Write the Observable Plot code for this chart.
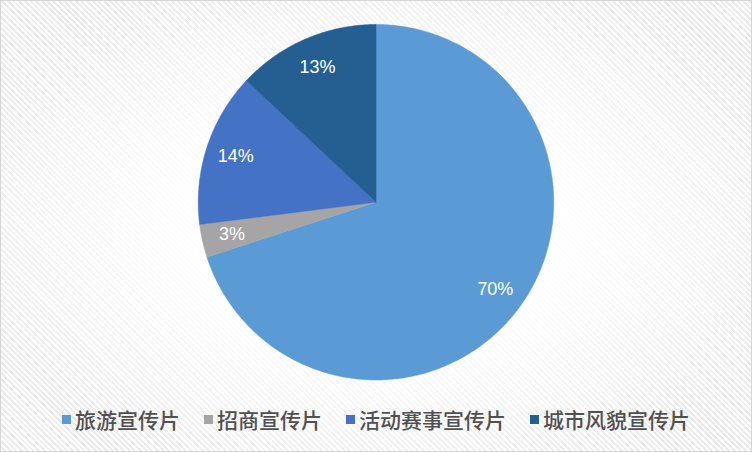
<!DOCTYPE html>
<html>
<head>
<meta charset="utf-8">
<script src="https://cdn.jsdelivr.net/npm/d3@7"></script>
<script src="https://cdn.jsdelivr.net/npm/@observablehq/plot@0.6"></script>
<style>
  html, body { margin: 0; padding: 0; background: #fff; }
  #frame {
    position: relative; width: 752px; height: 452px; box-sizing: border-box;
    border: 1px solid #d6d6d6; overflow: hidden;
    background:
      radial-gradient(ellipse 60% 60% at 50% 50%, rgba(255,255,255,1) 0%, rgba(255,255,255,0.9) 45%, rgba(255,255,255,0) 100%),
      repeating-linear-gradient(45deg, #ffffff 0px, #ffffff 2px, #ebebeb 2px, #ebebeb 4px);
  }
  #chart { position: absolute; left: -1px; top: -1px; }
  #legend {
    position: absolute; left: 0; top: 404px; width: 750px; height: 28px;
    display: flex; justify-content: center; align-items: center;
    font-family: "Noto Sans CJK SC", sans-serif; font-size: 21px; font-weight: 500; color: #505050;
  }
  .item { display: flex; align-items: center; margin: 0 12px; }
  .sw { width: 9px; height: 9px; margin-right: 4px; }
</style>
</head>
<body>
<div id="frame"><div id="chart"></div><div id="legend"></div></div>
<script>
const categories = ["旅游宣传片", "招商宣传片", "活动赛事宣传片", "城市风貌宣传片"];
const values = [70, 3, 14, 13];
const colors = ["#5B9BD5", "#A5A5A5", "#4472C4", "#255E91"];

const W = 752, H = 400, CX = 376, CY = 202, R = 178;

const arcs = d3.pie().sort(null).value(d => d)(values);

// polygon outlines of each slice in unit coordinates (angle clockwise from top)
const outline = [];
arcs.forEach((a, i) => {
  outline.push({cat: categories[i], x: 0, y: 0});
  const steps = Math.max(4, Math.ceil((a.endAngle - a.startAngle) / 0.01));
  for (let k = 0; k <= steps; k++) {
    const t = a.startAngle + (a.endAngle - a.startAngle) * k / steps;
    outline.push({cat: categories[i], x: Math.sin(t), y: Math.cos(t)});
  }
  outline.push({cat: categories[i], x: 0, y: 0});
});

const labels = arcs.map((a, i) => {
  const m = (a.startAngle + a.endAngle) / 2;
  return {label: values[i] + "%", x: 0.83 * Math.sin(m), y: 0.83 * Math.cos(m)};
});

const plot = Plot.plot({
  width: W, height: H,
  margin: 0,
  style: {background: "transparent", overflow: "visible"},
  x: {domain: [-CX / R, (W - CX) / R], axis: null},
  y: {domain: [-(H - CY) / R, CY / R], axis: null},
  color: {domain: categories, range: colors},
  marks: [
    Plot.line(outline, {x: "x", y: "y", z: "cat", fill: "cat", stroke: "cat", strokeWidth: 0.5, curve: "linear"}),
    Plot.text(labels, {x: "x", y: "y", text: "label", fill: "white", fontSize: 18, fontWeight: 500,
      fontFamily: "Liberation Sans, Arial, sans-serif"})
  ]
});
document.getElementById("chart").appendChild(plot);

const legend = document.getElementById("legend");
categories.forEach((c, i) => {
  const item = document.createElement("div");
  item.className = "item";
  const sw = document.createElement("div");
  sw.className = "sw";
  sw.style.background = colors[i];
  const tx = document.createElement("span");
  tx.textContent = c;
  item.appendChild(sw); item.appendChild(tx);
  legend.appendChild(item);
});
</script>
</body>
</html>
